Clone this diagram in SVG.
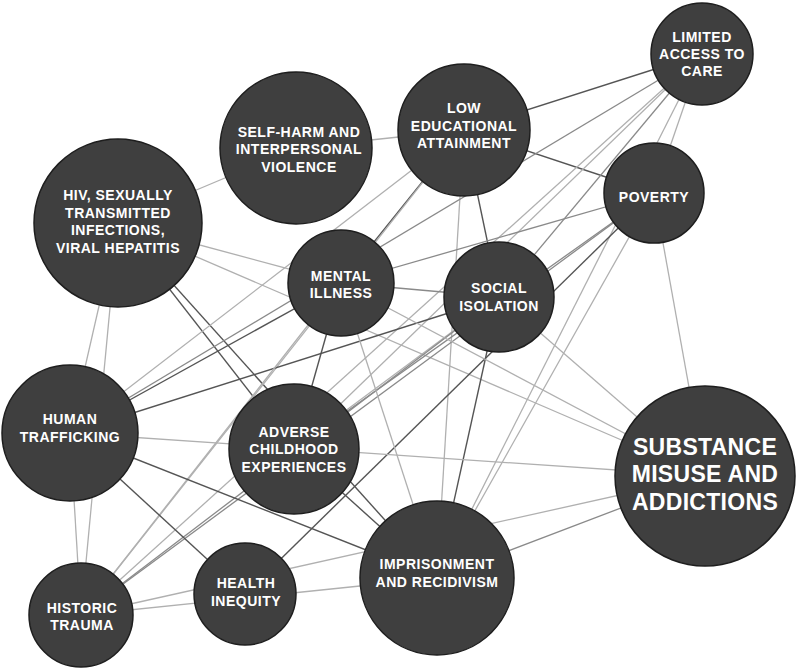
<svg xmlns="http://www.w3.org/2000/svg" width="800" height="668" viewBox="0 0 800 668">
<style>
.l{stroke:#b0b0b0;stroke-width:1.3;fill:none}
.m{stroke:#8a8a8a;stroke-width:1.3;fill:none}
.d{stroke:#555;stroke-width:1.4;fill:none}
.n circle{fill:#3f3f3f;stroke:#1e1e1e;stroke-width:1.5}
.n text{fill:#fff;font-family:"Liberation Sans",Arial,sans-serif;font-weight:700;font-size:14px;letter-spacing:0.5px;text-anchor:middle}
.big text{font-size:23px;letter-spacing:0.3px}
</style>
<rect width="800" height="668" fill="#fff"/>
<g id="connectors">
<line class="l" x1="118" y1="223" x2="296" y2="148"/>
<line class="l" x1="118" y1="223" x2="341" y2="283"/>
<line class="l" x1="118" y1="223" x2="705" y2="476"/>
<line class="l" x1="118" y1="223" x2="70" y2="433"/>
<line class="l" x1="118" y1="223" x2="81" y2="615"/>
<line class="d" x1="118" y1="223" x2="294" y2="449"/>
<line class="d" x1="118" y1="223" x2="437" y2="578"/>
<line class="l" x1="296" y1="148" x2="464" y2="130"/>
<line class="l" x1="464" y1="130" x2="70" y2="433"/>
<line class="d" x1="464" y1="130" x2="702" y2="54"/>
<line class="d" x1="464" y1="130" x2="654" y2="193"/>
<line class="d" x1="464" y1="130" x2="341" y2="283"/>
<line class="d" x1="464" y1="130" x2="499" y2="297"/>
<line class="l" x1="464" y1="130" x2="437" y2="578"/>
<line class="l" x1="464" y1="130" x2="81" y2="615"/>
<line class="m" x1="702" y1="54" x2="70" y2="433"/>
<line class="m" x1="702" y1="54" x2="499" y2="297"/>
<line class="l" x1="702" y1="54" x2="654" y2="193"/>
<line class="l" x1="702" y1="54" x2="437" y2="578"/>
<line class="l" x1="702" y1="54" x2="294" y2="449"/>
<line class="l" x1="702" y1="54" x2="81" y2="615"/>
<line class="m" x1="654" y1="193" x2="341" y2="283"/>
<line class="l" x1="654" y1="193" x2="705" y2="476"/>
<line class="d" x1="654" y1="193" x2="245" y2="594"/>
<line class="l" x1="654" y1="193" x2="437" y2="578"/>
<line class="m" x1="654" y1="193" x2="81" y2="615"/>
<line class="m" x1="654" y1="193" x2="294" y2="449"/>
<line class="m" x1="499" y1="297" x2="341" y2="283"/>
<line class="d" x1="499" y1="297" x2="70" y2="433"/>
<line class="l" x1="499" y1="297" x2="294" y2="449"/>
<line class="m" x1="499" y1="297" x2="81" y2="615"/>
<line class="d" x1="499" y1="297" x2="437" y2="578"/>
<line class="l" x1="499" y1="297" x2="705" y2="476"/>
<line class="d" x1="341" y1="283" x2="70" y2="433"/>
<line class="d" x1="341" y1="283" x2="294" y2="449"/>
<line class="l" x1="341" y1="283" x2="81" y2="615"/>
<line class="l" x1="341" y1="283" x2="437" y2="578"/>
<line class="l" x1="341" y1="283" x2="705" y2="476"/>
<line class="l" x1="70" y1="433" x2="705" y2="476"/>
<line class="d" x1="70" y1="433" x2="437" y2="578"/>
<line class="d" x1="70" y1="433" x2="245" y2="594"/>
<line class="l" x1="70" y1="433" x2="81" y2="615"/>
<line class="d" x1="294" y1="449" x2="437" y2="578"/>
<line class="l" x1="81" y1="615" x2="437" y2="578"/>
<line class="l" x1="81" y1="615" x2="705" y2="476"/>
<line class="m" x1="437" y1="578" x2="705" y2="476"/>
</g>
<g id="limited" class="n"><circle cx="702" cy="54" r="51"/><text x="702" y="42">LIMITED</text><text x="702" y="59">ACCESS TO</text><text x="702" y="76">CARE</text></g>
<g id="lea" class="n"><circle cx="464" cy="130" r="66"/><text x="464" y="113">LOW</text><text x="464" y="131">EDUCATIONAL</text><text x="464" y="148">ATTAINMENT</text></g>
<g id="poverty" class="n"><circle cx="654" cy="193" r="50"/><text x="654" y="202">POVERTY</text></g>
<g id="selfharm" class="n"><circle cx="296" cy="148" r="76"/><text x="299" y="137">SELF-HARM AND</text><text x="299" y="154">INTERPERSONAL</text><text x="299" y="172">VIOLENCE</text></g>
<g id="hiv" class="n"><circle cx="118" cy="223" r="84"/><text x="118" y="200">HIV, SEXUALLY</text><text x="118" y="218">TRANSMITTED</text><text x="118" y="235">INFECTIONS,</text><text x="118" y="253">VIRAL HEPATITIS</text></g>
<g id="si" class="n"><circle cx="499" cy="297" r="55"/><text x="499" y="293">SOCIAL</text><text x="499" y="311">ISOLATION</text></g>
<g id="mental" class="n"><circle cx="341" cy="283" r="53"/><text x="341" y="281">MENTAL</text><text x="341" y="298">ILLNESS</text></g>
<g id="ht" class="n"><circle cx="70" cy="433" r="68"/><text x="70" y="424">HUMAN</text><text x="70" y="442">TRAFFICKING</text></g>
<g id="adverse" class="n"><circle cx="294" cy="449" r="65"/><text x="294" y="437">ADVERSE</text><text x="294" y="454">CHILDHOOD</text><text x="294" y="472">EXPERIENCES</text></g>
<g id="hi" class="n"><circle cx="245" cy="594" r="51"/><text x="246" y="588">HEALTH</text><text x="246" y="606">INEQUITY</text></g>
<g id="historic" class="n"><circle cx="81" cy="615" r="52"/><text x="82" y="613">HISTORIC</text><text x="82" y="630">TRAUMA</text></g>
<g id="prison" class="n"><circle cx="437" cy="578" r="77"/><text x="437" y="569">IMPRISONMENT</text><text x="437" y="587">AND RECIDIVISM</text></g>
<g id="substance" class="n big"><circle cx="705" cy="476" r="90"/><text x="705" y="455">SUBSTANCE</text><text x="705" y="482">MISUSE AND</text><text x="705" y="510">ADDICTIONS</text></g>
</svg>
